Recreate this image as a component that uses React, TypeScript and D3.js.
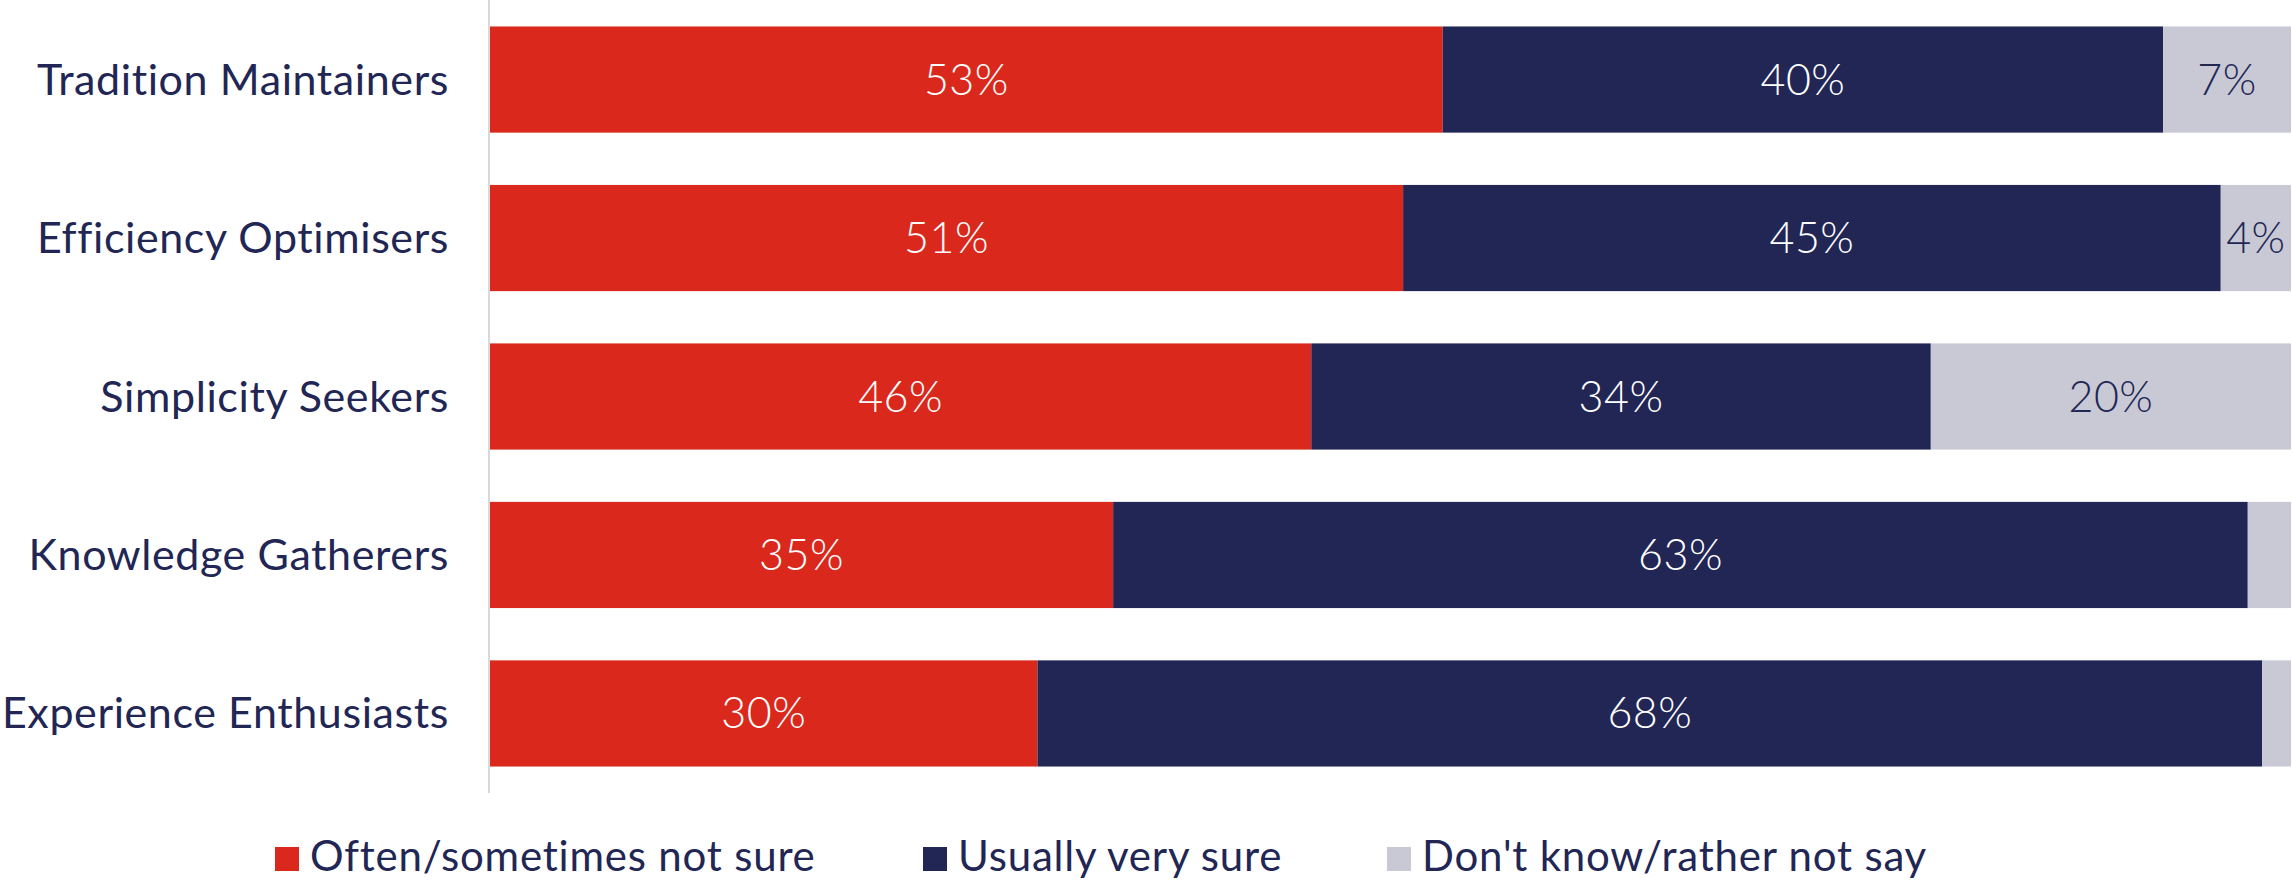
import React, { useEffect, useRef } from "react";
import * as d3 from "d3";

const categories = [
  "Tradition Maintainers",
  "Efficiency Optimisers",
  "Simplicity Seekers",
  "Knowledge Gatherers",
  "Experience Enthusiasts",
];
const seriesNames = ["Often/sometimes not sure", "Usually very sure", "Don't know/rather not say"];
const notSure = [52.9, 50.7, 45.6, 34.6, 30.4];
const verySure = [40.0, 45.4, 34.4, 63.0, 68.0];
const dontKnow = [7.1, 3.9, 20.0, 2.4, 1.6];
const colors = ["#DA291C", "#222654", "#C9C9D6"];
const labelColors = ["#FFFFFF", "#FFFFFF", "#222654"];

const W = 2292;
const H = 887;
const FONT = "Lato, 'Noto Sans', sans-serif";
const TEXT = "#222654";

export default function App() {
  const ref = useRef<SVGSVGElement | null>(null);

  useEffect(() => {
    document.body.style.margin = "0";
    const svg = d3.select(ref.current);
    svg.selectAll("*").remove();

    const x0 = 490;
    const x1 = 2291;
    const x = d3.scaleLinear().domain([0, 100]).range([x0, x1]);
    const y = d3
      .scaleBand<string>()
      .domain(categories)
      .range([0, 793])
      .paddingInner(0.33)
      .paddingOuter(0.167);

    const rows = categories.map((c, i) => ({ cat: c, vals: [notSure[i], verySure[i], dontKnow[i]] }));
    const stackData = rows.map((r) => {
      let acc = 0;
      return r.vals.map((v, k) => {
        const s = { cat: r.cat, k, v, a: acc, b: acc + v };
        acc += v;
        return s;
      });
    });
    const segs = stackData.flat();

    const g = svg.append("g");
    g.selectAll("rect.seg")
      .data(segs)
      .join("rect")
      .attr("class", "seg")
      .attr("x", (d) => x(d.a))
      .attr("y", (d) => y(d.cat)!)
      .attr("width", (d) => x(d.b) - x(d.a))
      .attr("height", y.bandwidth())
      .attr("fill", (d) => colors[d.k]);

    const fs = 43;
    g.selectAll("text.val")
      .data(segs.filter((d) => d.v >= 3))
      .join("text")
      .attr("class", "val")
      .attr("x", (d) => (x(d.a) + x(d.b)) / 2)
      .attr("y", (d) => y(d.cat)! + y.bandwidth() / 2 + 15)
      .attr("text-anchor", "middle")
      .attr("font-family", FONT)
      .attr("font-weight", 300)
      .attr("font-size", fs)
      .attr("letter-spacing", 0.5)
      .attr("fill", (d) => labelColors[d.k])
      .text((d) => `${Math.round(d.v)}%`);

    // axis line
    svg
      .append("line")
      .attr("x1", 489)
      .attr("x2", 489)
      .attr("y1", 0)
      .attr("y2", 793)
      .attr("stroke", "#D9D9D9")
      .attr("stroke-width", 2);

    // category labels
    svg
      .selectAll("text.cat")
      .data(categories)
      .join("text")
      .attr("class", "cat")
      .attr("x", 449)
      .attr("y", (d) => y(d)! + y.bandwidth() / 2 + 15)
      .attr("text-anchor", "end")
      .attr("font-family", FONT)
      .attr("font-size", fs)
      .attr("letter-spacing", 0.6)
      .style("font-variant-ligatures", "none")
      .attr("fill", TEXT)
      .text((d) => d);

    // legend
    const legendY = 871;
    const starts = [275, 923, 1387];
    const lg = svg.append("g");
    seriesNames.forEach((name, i) => {
      lg.append("rect")
        .attr("x", starts[i])
        .attr("y", legendY - 24)
        .attr("width", 24)
        .attr("height", 24)
        .attr("fill", colors[i]);
      lg.append("text")
        .attr("x", starts[i] + 35)
        .attr("y", legendY)
        .attr("font-family", FONT)
        .attr("font-size", 42)
        .attr("letter-spacing", 0.8)
        .style("font-variant-ligatures", "none")
        .attr("fill", TEXT)
        .text(name);
    });
  }, []);

  return <svg ref={ref} width={W} height={H} style={{ display: "block", background: "#fff" }} />;
}
